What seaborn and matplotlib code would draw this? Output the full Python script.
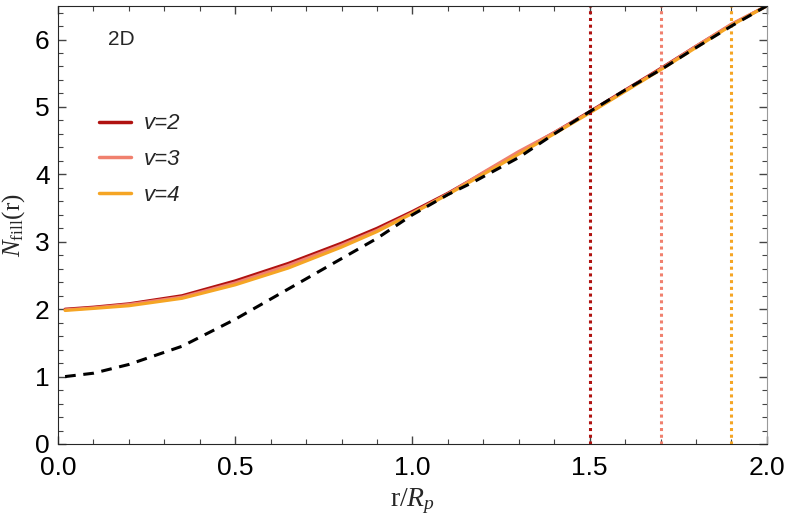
import numpy as np
import pandas as pd
import seaborn as sns
import matplotlib.pyplot as plt

# values
r_vals = [0.02, 0.1, 0.2, 0.35, 0.5, 0.65, 0.8, 0.9, 1.0, 1.1, 1.2, 1.3, 1.4, 1.5, 1.6, 1.7, 1.8, 1.9, 2.0]
n_v2 = [2.0, 2.03, 2.08, 2.2, 2.42, 2.68, 2.98, 3.2, 3.45, 3.72, 4.02, 4.32, 4.62, 4.93, 5.25, 5.57, 5.9, 6.22, 6.5]
n_v3 = [1.99, 2.02, 2.07, 2.18, 2.39, 2.65, 2.95, 3.17, 3.43, 3.71, 4.03, 4.34, 4.62, 4.92, 5.24, 5.56, 5.9, 6.23, 6.5]
n_v4 = [1.98, 2.01, 2.05, 2.16, 2.36, 2.61, 2.92, 3.15, 3.42, 3.7, 4.0, 4.3, 4.6, 4.91, 5.23, 5.55, 5.88, 6.21, 6.5]
r_ref = [0.02, 0.1, 0.2, 0.35, 0.5, 0.65, 0.8, 0.9, 1.0, 1.1, 1.17, 1.3, 1.4, 1.5, 1.6, 1.7, 1.8, 1.9, 2.0]
n_ref = [1.0, 1.05, 1.18, 1.45, 1.85, 2.3, 2.75, 3.05, 3.4, 3.7, 3.88, 4.25, 4.6, 4.93, 5.25, 5.55, 5.88, 6.2, 6.5]
labels = ["2", "3", "4"]
cutoffs = [1.5, 1.7, 1.9]
colors = ["#b01210", "#f0806e", "#f5a524"]

df = pd.DataFrame({
    "r": r_vals * 3,
    "N": n_v2 + n_v3 + n_v4,
    "v": sum([[lab] * len(r_vals) for lab in labels], []),
})

sns.set_style("ticks")
plt.rcParams["font.family"] = ["Liberation Sans", "DejaVu Sans"]
plt.rcParams["mathtext.fontset"] = "custom"
plt.rcParams["mathtext.rm"] = "Liberation Serif"
plt.rcParams["mathtext.it"] = "Liberation Serif:italic"

fig = plt.figure(figsize=(7.89, 5.27), dpi=100)
ax = fig.add_axes([0.0735, 0.1575, 0.8985, 0.8315])

sns.lineplot(data=df, x="r", y="N", hue="v", palette=colors, linewidth=2.2, ax=ax, legend=False)

for c, col in zip(cutoffs, colors):
    ax.axvline(c, color=col, linestyle=(0, (1, 1.2)), linewidth=2.2)

sns.lineplot(x=r_ref, y=n_ref, color="black", linestyle=(0, (3.5, 2.5)), linewidth=2.2, ax=ax)

# legend with line proxies
handles = [plt.Line2D([], [], color=col, linewidth=2.5) for col in colors]
leg = ax.legend(handles, ["v=" + lab for lab in labels], loc="upper left",
                bbox_to_anchor=(0.03, 0.80), frameon=False, fontsize=16, handlelength=1.45,
                labelspacing=0.66, handletextpad=0.55)
for t in leg.get_texts():
    t.set_fontstyle("italic")

ax.text(0.14, 6.0, "2D", fontsize=15, va="center")

ax.set_xlim(0, 2.0)
ax.set_ylim(0, 6.5)
ax.set_xticks([0.0, 0.5, 1.0, 1.5, 2.0])
ax.set_xticklabels(["0.0", "0.5", "1.0", "1.5", "2.0"])
ax.set_yticks(range(0, 7))
ax.set_xticks(np.arange(0, 2.01, 0.1), minor=True)
ax.set_yticks(np.arange(0, 6.51, 0.2), minor=True)
ax.tick_params(which="both", direction="in", top=True, right=True, labelsize=19)
ax.tick_params(axis="x", pad=9)
ax.tick_params(axis="y", pad=6)
ax.tick_params(which="major", length=6, width=1)
ax.tick_params(which="minor", length=3.5, width=0.8)
ax.tick_params(axis="both", which="both", colors="#444444", labelcolor="black")
ax.spines["right"].set_color("#999999")

ax.set_xlabel("r/$R_p$", fontsize=20, family="Liberation Serif", labelpad=4)
ax.set_ylabel("$N_{\\mathrm{fill}}$(r)", fontsize=18, family="Liberation Serif", labelpad=6)

fig.savefig("out.png", dpi=100)
